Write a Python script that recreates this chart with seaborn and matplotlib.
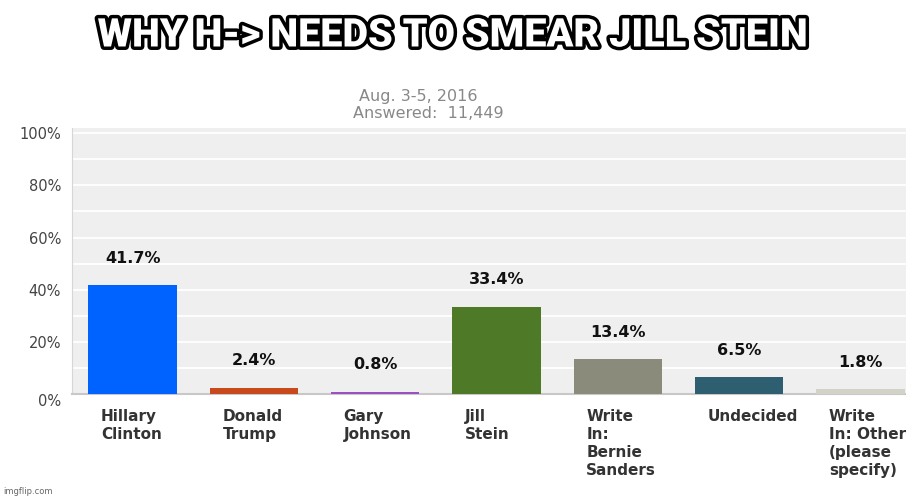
import matplotlib
matplotlib.use("Agg")
import matplotlib.pyplot as plt
import matplotlib.patheffects as pe
import matplotlib.transforms as mtransforms
import seaborn as sns
import pandas as pd

# poll data
candidates = ["Hillary\nClinton", "Donald\nTrump", "Gary\nJohnson", "Jill\nStein",
              "Write\nIn:\nBernie\nSanders", "Undecided", "Write\nIn: Other\n(please\nspecify)"]
share = [41.7, 2.4, 0.8, 33.4, 13.4, 6.5, 1.8]
share_labels = ["41.7%", "2.4%", "0.8%", "33.4%", "13.4%", "6.5%", "1.8%"]
bar_colors = ["#0062ff", "#c84a1c", "#9a4fc2", "#4e7a27", "#8b8b7c", "#2e5f70", "#d2d2c6"]
y_ticks = [0, 20, 40, 60, 80, 100]
y_tick_labels = ["0%", "20%", "40%", "60%", "80%", "100%"]

sns.set_style("white")
plt.rcParams["font.family"] = ["DejaVu Sans"]

df = pd.DataFrame({"candidate": candidates, "share": share})

fig = plt.figure(figsize=(9.06, 5.0), dpi=100)
ax = fig.add_axes([72 / 906, 0.212, 849 / 906, 0.532])
ax.set_facecolor("#efefef")

sns.barplot(data=df, x="candidate", y="share", hue="candidate", palette=bar_colors,
            width=0.73, legend=False, ax=ax, zorder=3, saturation=1, linewidth=0)

ax.set_xlim(-0.5, 6.5)
ax.set_ylim(0, 102)
ax.set_yticks(y_ticks)
ax.set_yticklabels(y_tick_labels, fontsize=10.5, color="#444444")
ax.set_yticks(range(0, 101, 10), minor=True)
ax.grid(axis="y", which="both", color="white", linewidth=1.3, zorder=0)
ax.tick_params(axis="y", which="both", length=0, pad=8)
ax.set_xticks([])
ax.set_xlabel("")
ax.set_ylabel("")
for s in ["top", "right"]:
    ax.spines[s].set_visible(False)
ax.spines["left"].set_color("#d6d6d6")
ax.spines["bottom"].set_color("#c8c8c8")
ax.spines["bottom"].set_linewidth(1.5)
ax.get_yticklabels()[0].set_va("top")

# value labels above bars
for i, (v, t) in enumerate(zip(share, share_labels)):
    ax.annotate(t, (i, v), xytext=(0, 14), textcoords="offset points",
                ha="center", va="bottom", fontsize=11.5, fontweight="bold", color="#111111")

# category labels under bars, left aligned
trans = mtransforms.blended_transform_factory(ax.transData, ax.transAxes)
for i, name in enumerate(candidates):
    ax.text(i - 0.365 + 0.105, -0.055, name, transform=trans, ha="left", va="top",
            fontsize=11, fontweight="bold", color="#333333", linespacing=1.25)

# headers
fig.text(418 / 906, 1 - 97 / 500, "Aug. 3-5, 2016", ha="center", va="center",
         fontsize=11.5, color="#888888")
fig.text(428 / 906, 1 - 113 / 500, "Answered:  11,449", ha="center", va="center",
         fontsize=11.5, color="#888888")

title = fig.text(453 / 906, 1 - 35 / 500, "WHY H-> NEEDS TO SMEAR JILL STEIN",
                 ha="center", va="center", fontsize=28.5, fontweight="black",
                 family=["Roboto", "DejaVu Sans"], color="white")
title.set_path_effects([pe.withStroke(linewidth=5, foreground="black")])

fig.text(3 / 906, 1 - 492 / 500, "imgflip.com", ha="left", va="center",
         fontsize=6, color="#666666")

fig.savefig("out.png", dpi=100)
